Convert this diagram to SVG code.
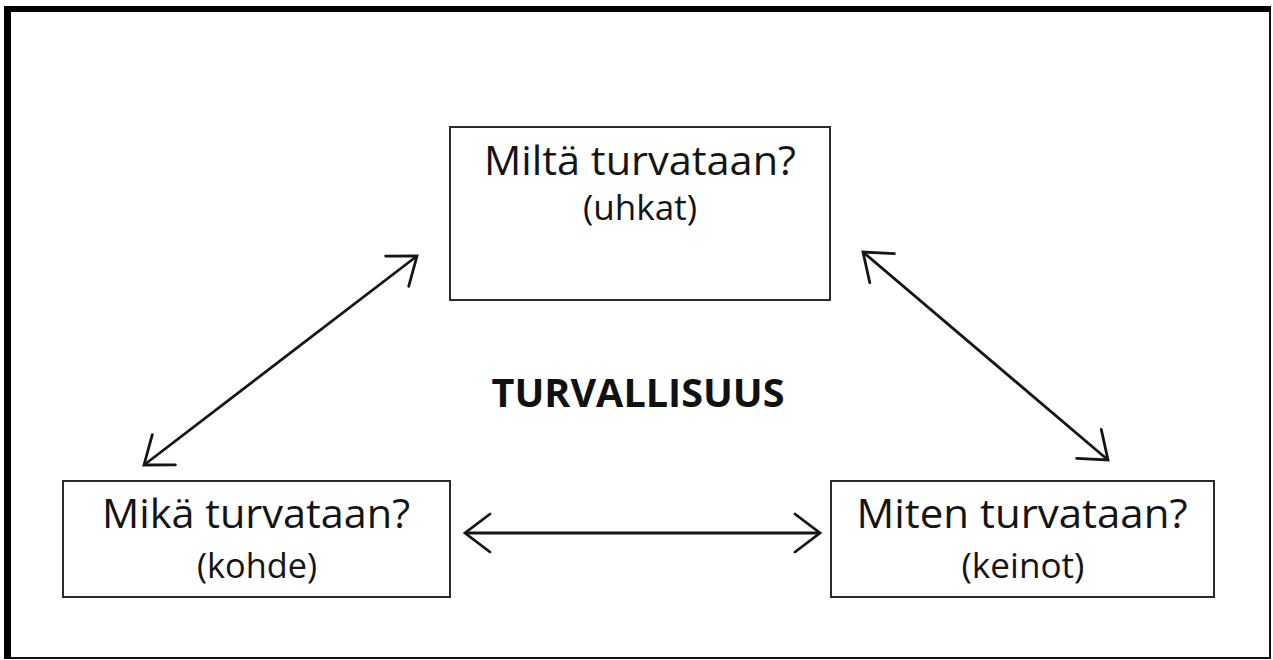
<svg xmlns="http://www.w3.org/2000/svg" width="1273" height="660" viewBox="0 0 1273 660">
  <style>
    .box { fill: #ffffff; stroke: #2a2a2a; stroke-width: 2; }
    .main { font-family: "Open Sans", "Liberation Sans", sans-serif; font-size: 41px; fill: #141414; text-anchor: middle; }
    .sub { font-family: "Open Sans", "Liberation Sans", sans-serif; font-size: 34px; fill: #141414; text-anchor: middle; }
    .title { font-family: "Open Sans", "Liberation Sans", sans-serif; font-size: 40px; font-weight: bold; fill: #111111; text-anchor: middle; }
    .conn { stroke: #151515; stroke-width: 2.8; fill: none; marker-start: url(#head); marker-end: url(#head); }
  </style>
  <defs>
    <marker id="head" markerUnits="userSpaceOnUse" viewBox="-30 -24 34 48" refX="0" refY="0" markerWidth="34" markerHeight="48" orient="auto-start-reverse">
      <path d="M -25 -19 L 0 0 L -25 19" fill="none" stroke="#151515" stroke-width="2.8" stroke-linecap="round" stroke-linejoin="miter"/>
    </marker>
  </defs>
  <rect x="0" y="0" width="1273" height="660" fill="#ffffff"/>
  <g id="frame">
    <line x1="1270" y1="9" x2="1270" y2="658" stroke="#111" stroke-width="2"/>
    <line x1="4" y1="658" x2="1271" y2="658" stroke="#111" stroke-width="2"/>
    <rect x="4" y="6" width="1267" height="6" fill="#000"/>
    <rect x="4" y="6" width="7" height="653" fill="#000"/>
  </g>
  <g id="connectors">
    <line class="conn" x1="144" y1="465" x2="417" y2="256"/>
    <line class="conn" x1="863" y1="252" x2="1108" y2="460"/>
    <line class="conn" x1="465" y1="533" x2="820" y2="533"/>
  </g>
  <g id="node-uhkat">
    <rect class="box" x="450" y="127" width="380" height="173"/>
    <text class="main" x="640" y="175" textLength="312" lengthAdjust="spacingAndGlyphs">Miltä turvataan?</text>
    <text class="sub" x="640" y="220" textLength="114" lengthAdjust="spacingAndGlyphs">(uhkat)</text>
  </g>
  <g id="node-kohde">
    <rect class="box" x="63" y="481" width="387" height="116"/>
    <text class="main" x="256" y="528" textLength="308" lengthAdjust="spacingAndGlyphs">Mikä turvataan?</text>
    <text class="sub" x="257" y="578" textLength="120" lengthAdjust="spacingAndGlyphs">(kohde)</text>
  </g>
  <g id="node-keinot">
    <rect class="box" x="831" y="481" width="383" height="116"/>
    <text class="main" x="1022" y="528" textLength="331" lengthAdjust="spacingAndGlyphs">Miten turvataan?</text>
    <text class="sub" x="1023" y="578" textLength="123" lengthAdjust="spacingAndGlyphs">(keinot)</text>
  </g>
  <g id="label-turvallisuus">
    <text class="title" x="638" y="407" textLength="293" lengthAdjust="spacingAndGlyphs">TURVALLISUUS</text>
  </g>
</svg>
